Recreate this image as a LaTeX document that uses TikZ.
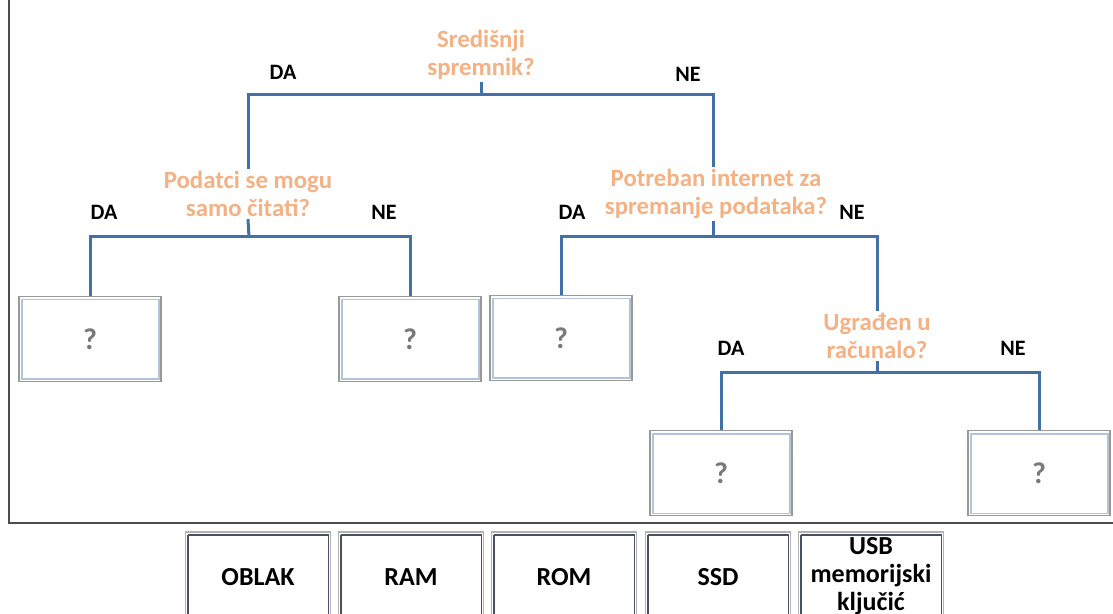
\documentclass[tikz,border=0pt]{standalone}
\usepackage{fontspec}
\setmainfont{Carlito}
\usepackage{xcolor}
\usetikzlibrary{positioning}

\definecolor{treeblue}{RGB}{65,113,166}
\definecolor{qorange}{RGB}{244,177,131}
\definecolor{innerblue}{RGB}{180,196,216}
\definecolor{darkframe}{RGB}{70,82,100}

\tikzset{
    tree/.style={treeblue, line width=1.5pt},
    question/.style={align=center, text=qorange, font=\bfseries\fontsize{12.4}{14}\selectfont, inner sep=1pt},
    answer/.style={font=\bfseries\fontsize{11}{13}\selectfont},
    leaf/.style={draw=gray!80, line width=0.8pt, minimum width=71pt, minimum height=42.5pt,
                 text=gray!95!black, font=\bfseries\fontsize{15}{17}\selectfont},
    choice/.style={draw=gray!60, line width=0.8pt, minimum width=72.5pt, minimum height=50pt,
                 anchor=north, align=center},
    choicetext/.style={align=center, font=\bfseries\fontsize{13}{14}\selectfont}
}

\begin{document}
\begin{tikzpicture}[x=0.5pt, y=-0.5pt]
                \useasboundingbox (0,0) rectangle (1113,614);
                \draw[gray!60!black, line width=0.6pt] (9,-5) rectangle (1125,523);

                % questions
                \node [question] (q1) at (481,55) {Središnji\\spremnik?};
                \node [question] (q2) at (248,194) {Podatci se mogu\\samo čitati?};
                \node [question] (q3) at (716,194) {Potreban internet za\\spremanje podataka?};
                \node [question] (q4) at (877,336) {Ugrađen u\\računalo?};

                % junctions
                \coordinate (b1) at (481,95);
                \coordinate (b2) at (249,237);
                \coordinate (b3) at (713,237);
                \coordinate (b4) at (877,373);

                % leaves
                \node [leaf] (l1) at (90,339) {?};
                \node [leaf] (l2) at (410,339) {?};
                \node [leaf] (l3) at (561,338) {?};
                \node [leaf] (l4) at (721,473) {?};
                \node [leaf] (l5) at (1039,473) {?};
                \foreach \n in {l1,l2,l3,l4,l5}
                    \draw[innerblue, line width=0.8pt]
                        ([shift={(2pt,-2pt)}]\n.north west) rectangle ([shift={(-1.5pt,1.5pt)}]\n.south east);

                % connectors
                \draw[tree] (q1.south) -- (b1);
                \draw[tree] (q2.north) |- (b1) -| (b3 |- q3.north);
                \draw[tree] (q2.south) -- (b2);
                \draw[tree] (l1.north) |- (b2) -| (l2.north);
                \draw[tree] (b3 |- q3.south) -- (b3);
                \draw[tree] (l3.north) |- (b3) -| (q4.north);
                \draw[tree] (q4.south) -- (b4);
                \draw[tree] (l4.north) |- (b4) -| (l5.north);

                % answers
                \node [answer] (a1) at (283,72) {DA};
                \node [answer] (a2) at (688,74) {NE};
                \node [answer] (a3) at (104,212) {DA};
                \node [answer] (a4) at (384,212) {NE};
                \node [answer] (a5) at (572,212) {DA};
                \node [answer] (a6) at (852,212) {NE};
                \node [answer] (a7) at (731,348) {DA};
                \node [answer] (a8) at (1013,348) {NE};

                % choices
                \node [choice] (c1) at (258,531) {};
                \node [choice] (c2) at (411,531) {};
                \node [choice] (c3) at (564,531) {};
                \node [choice] (c4) at (718,531) {};
                \node [choice] (c5) at (871,531) {};
                \foreach \n in {c1,c2,c3,c4,c5}
                    \draw[darkframe, line width=0.8pt]
                        ([shift={(1.5pt,-2pt)}]\n.north west) -- ([shift={(1.5pt,0pt)}]\n.south west)
                        ([shift={(1.5pt,-2pt)}]\n.north west) -- ([shift={(-1.5pt,-2pt)}]\n.north east)
                        -- ([shift={(-1.5pt,0pt)}]\n.south east);
                \node [choicetext] (t1) at (258,577) {OBLAK};
                \node [choicetext] (t2) at (411,577) {RAM};
                \node [choicetext] (t3) at (564,577) {ROM};
                \node [choicetext] (t4) at (718,577) {SSD};
                \node [choicetext] (t5) at (871,576) {USB\\memorijski\\ključić};
\end{tikzpicture}
\end{document}
